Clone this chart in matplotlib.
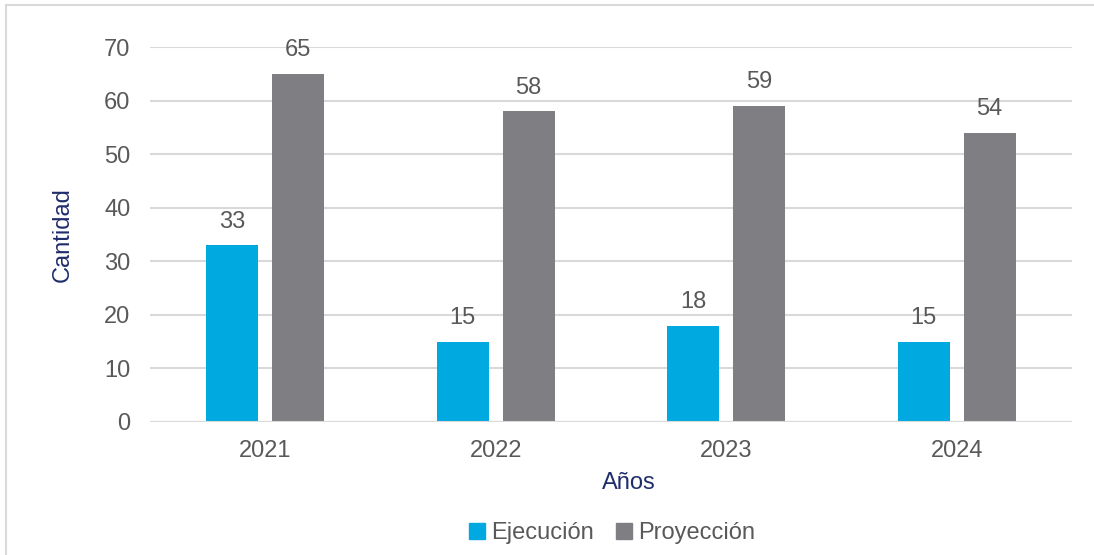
import numpy as np
import matplotlib
matplotlib.use("Agg")
import matplotlib.pyplot as plt
from matplotlib.lines import Line2D

plt.rcParams['font.family'] = ['Liberation Sans', 'DejaVu Sans']

anios = ['2021', '2022', '2023', '2024']
ejecucion = [33, 15, 18, 15]
proyeccion = [65, 58, 59, 54]

azul = '#00A9E0'
gris = '#7F7F83'
texto = '#595959'
navy = '#1F2D6B'
fs = 17

fig = plt.figure(figsize=(10.94, 5.55), dpi=100)
ax = fig.add_axes([150/1094, 1-422/555, (1072-150)/1094, (422-47)/555])

x = np.arange(len(anios))
w = 0.226
off = 0.143
b1 = ax.bar(x - off, ejecucion, w, color=azul, label='Ejecución', zorder=3)
b2 = ax.bar(x + off, proyeccion, w, color=gris, label='Proyección', zorder=3)

for bars in (b1, b2):
    for r in bars:
        ax.annotate(f'{r.get_height():.0f}', (r.get_x() + r.get_width()/2, r.get_height()),
                    xytext=(0, 9), textcoords='offset points', ha='center', va='bottom',
                    fontsize=fs, color=texto)

ax.set_xlim(-0.5, 3.5)
ax.set_ylim(0, 70)
ax.set_yticks(range(0, 80, 10))
ax.set_xticks(x)
ax.set_xticklabels(anios)
ax.grid(axis='y', color='#D9D9D9', linewidth=1.5, zorder=0)
for s in ax.spines.values():
    s.set_visible(False)
ax.axhline(0, color='#D9D9D9', linewidth=1.5, zorder=4)
ax.tick_params(axis='both', length=0, labelsize=fs, labelcolor=texto)
ax.tick_params(axis='y', pad=14)
ax.tick_params(axis='x', pad=13)

ax.set_ylabel('Cantidad', fontsize=fs, color=navy, labelpad=22)
ax.set_xlabel('Años', fontsize=fs, color=navy)
ax.xaxis.set_label_coords(0.5195, -0.133)

handles = [Line2D([], [], marker='s', linestyle='none', markersize=11, color=azul),
           Line2D([], [], marker='s', linestyle='none', markersize=11, color=gris)]
fig.legend(handles, ['Ejecución', 'Proyección'], loc='center', bbox_to_anchor=(610/1094, 1-533/555),
           ncol=2, frameon=False, fontsize=fs, labelcolor=texto, handletextpad=0.1,
           columnspacing=0.8, handlelength=1.0)

# marco
fig.add_artist(Line2D([6/1094, 6/1094], [0, 1-5/555], color='#D9D9D9', linewidth=1.5))
fig.add_artist(Line2D([6/1094, 1], [1-5/555, 1-5/555], color='#D9D9D9', linewidth=1.5))

fig.savefig('out.png', dpi=100)
